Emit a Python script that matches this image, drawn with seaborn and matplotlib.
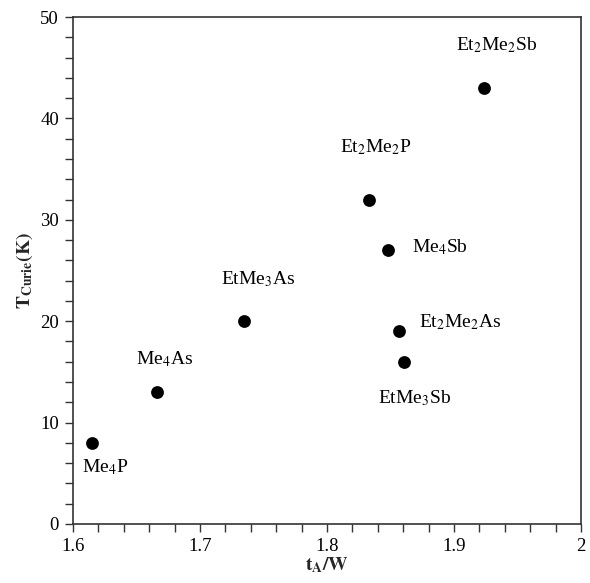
import matplotlib
matplotlib.use("Agg")
import matplotlib.pyplot as plt
import seaborn as sns
import pandas as pd
from matplotlib.ticker import MultipleLocator

compounds = ["Me$_4$P", "Me$_4$As", "EtMe$_3$As", "Et$_2$Me$_2$P", "Me$_4$Sb",
             "Et$_2$Me$_2$As", "EtMe$_3$Sb", "Et$_2$Me$_2$Sb"]
tA_W = [1.615, 1.666, 1.735, 1.833, 1.848, 1.857, 1.861, 1.924]
T_curie = [8, 13, 20, 32, 27, 19, 16, 43]

df = pd.DataFrame({"tA_W": tA_W, "T": T_curie, "name": compounds})

sns.set_theme(style="ticks")
plt.rcParams["font.family"] = ["Liberation Serif", "DejaVu Serif"]
plt.rcParams["mathtext.fontset"] = "stix"

fig = plt.figure(figsize=(5.90, 5.83), dpi=100)
ax = fig.add_axes([73/590, 1 - 524/583, (581-73)/590, (524-17)/583])

sns.scatterplot(data=df, x="tA_W", y="T", ax=ax, color="black", s=85,
                edgecolor="black", linewidth=0, legend=False)

# label offsets in pixels (dx, dy, ha)
offsets = [(13, -24, "center"), (8, 33, "center"), (14, 42, "center"),
           (7, 52, "center"), (24, 3, "left"), (20, 9, "left"),
           (10, -36, "center"), (12, 43, "center")]
for (x, y, n), (dx, dy, ha) in zip(zip(tA_W, T_curie, compounds), offsets):
    ax.annotate(n, (x, y), xytext=(dx, dy), textcoords="offset pixels",
                ha=ha, va="center", fontsize=14, color="black")

ax.set_xlim(1.6, 2.0)
ax.set_ylim(0, 50)
ax.xaxis.set_major_locator(MultipleLocator(0.1))
ax.xaxis.set_minor_locator(MultipleLocator(0.02))
ax.yaxis.set_major_locator(MultipleLocator(10))
ax.yaxis.set_minor_locator(MultipleLocator(2))
ax.set_xticks([1.6, 1.7, 1.8, 1.9, 2.0])
ax.set_xticklabels(["1.6", "1.7", "1.8", "1.9", "2"])
ax.tick_params(which="both", direction="out", length=6, width=1.0,
               color="#333333", labelsize=13.5, labelcolor="black", pad=4)
for sp in ax.spines.values():
    sp.set_visible(True)
    sp.set_color("#333333")
    sp.set_linewidth(1.2)

ax.set_xlabel(r"$\mathbf{t_A/W}$", fontsize=14, labelpad=0)
ax.set_ylabel(r"$\mathbf{T_{Curie}(K)}$", fontsize=14, labelpad=4)

fig.savefig("out.png", dpi=100)
